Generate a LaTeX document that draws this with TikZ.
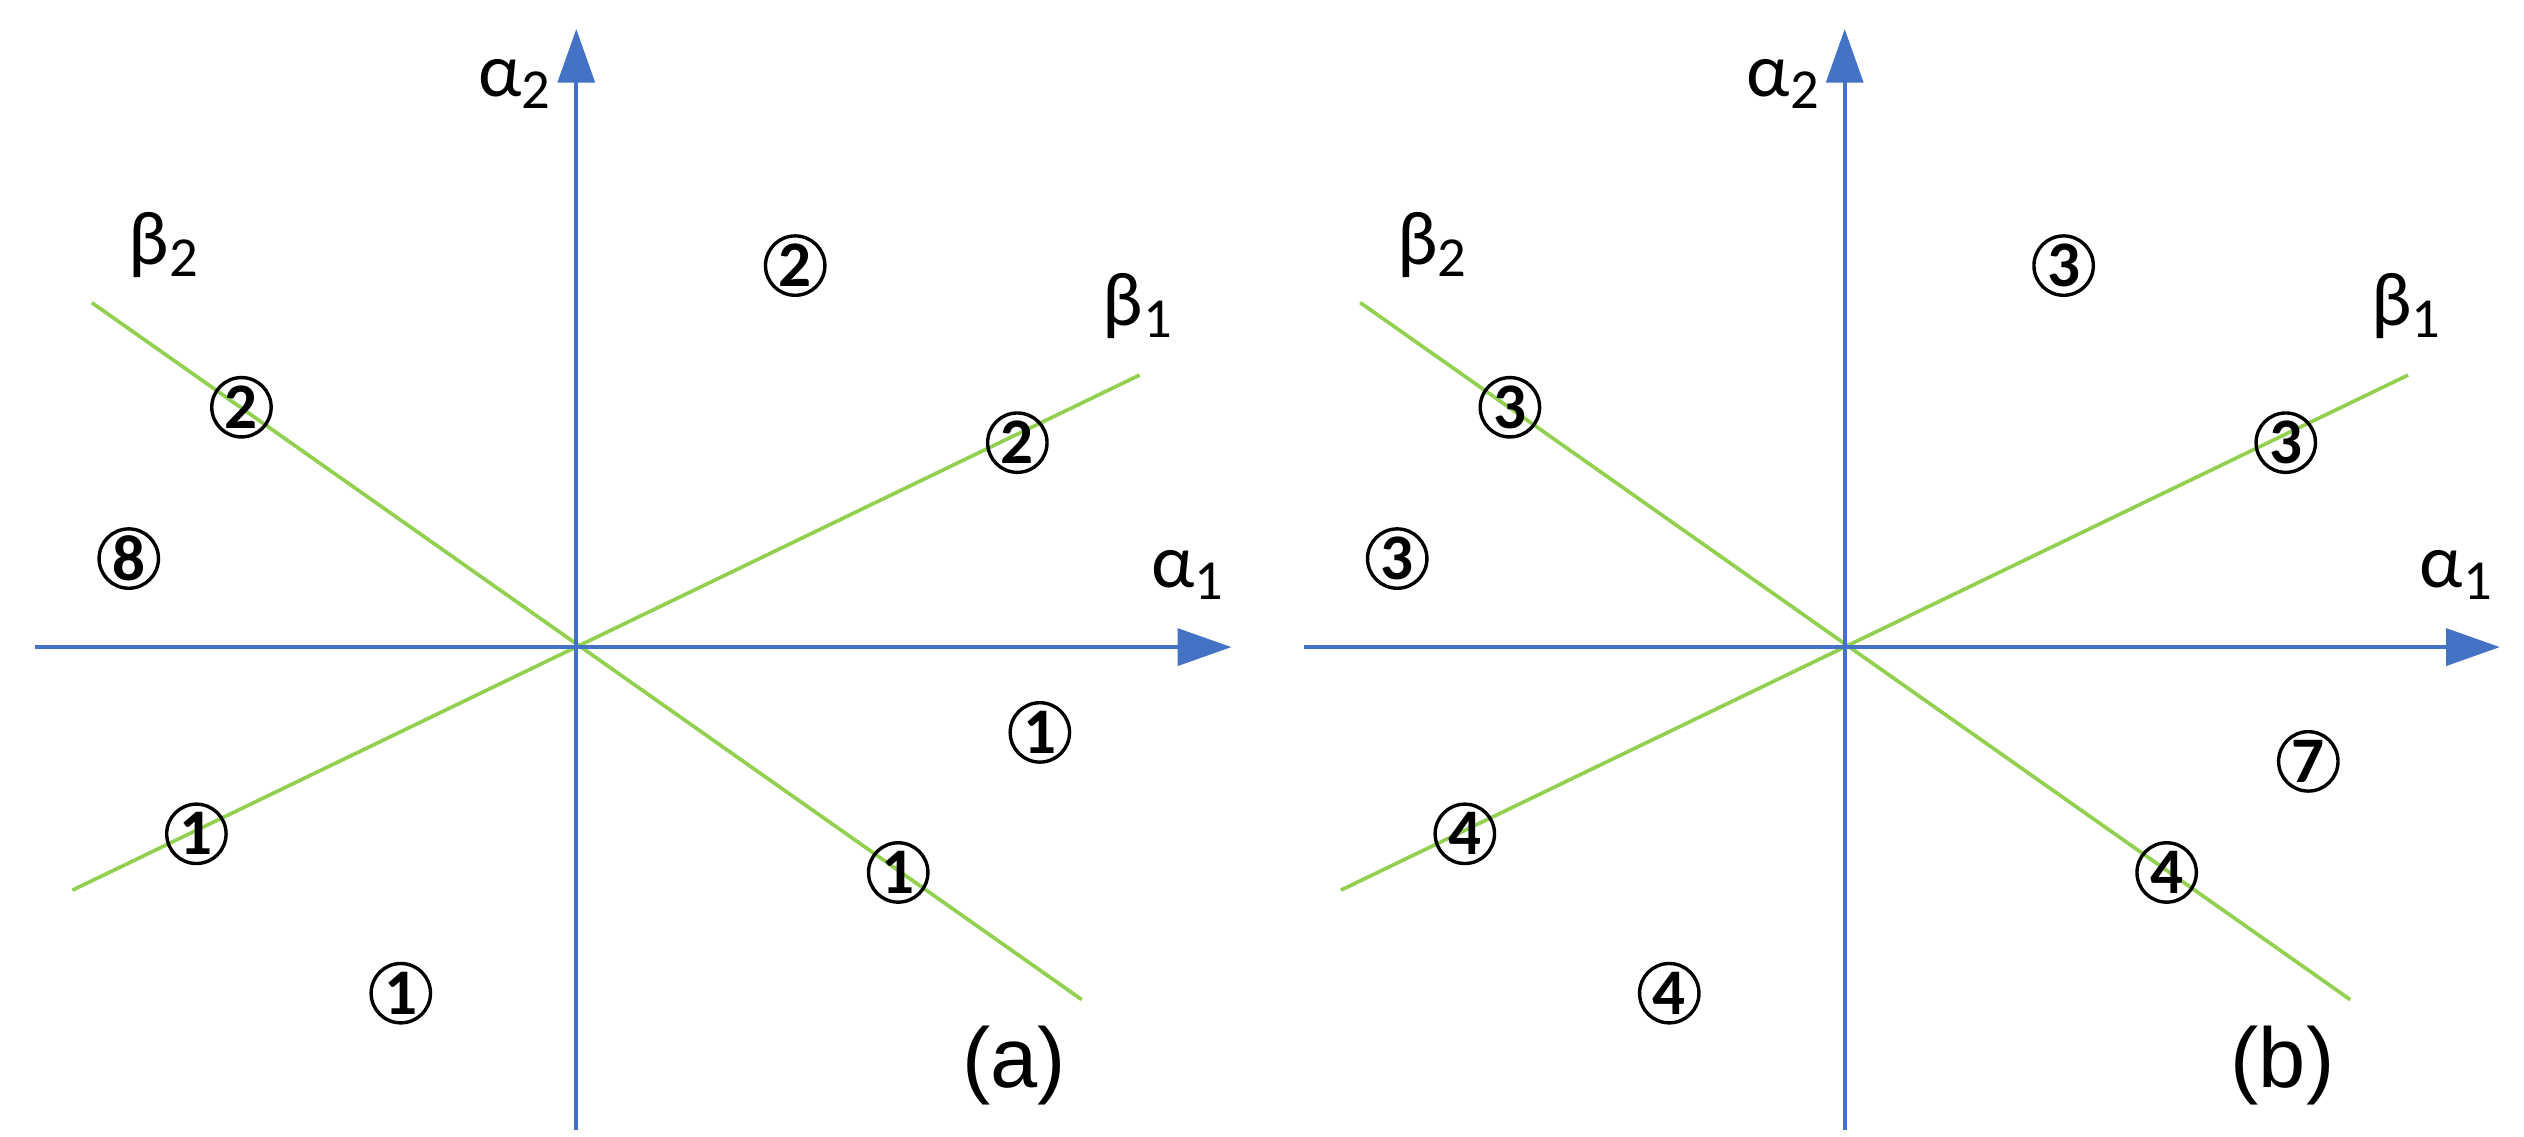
\documentclass[tikz,border=0pt]{standalone}
\usepackage{fontspec}
\setmainfont{Carlito}
\newfontfamily\arialf{Liberation Sans}
\usetikzlibrary{arrows.meta}
\definecolor{axblue}{HTML}{4472C4}
\definecolor{lgreen}{HTML}{92D050}
\begin{document}
\begin{tikzpicture}[x=0.02cm,y=-0.02cm,
  axis/.style={draw=axblue,line width=1.5pt,-{Triangle[width=13pt,length=19pt]}},
  bline/.style={draw=lgreen,line width=1.3pt},
  cnum/.style={circle,draw,line width=1.2pt,inner sep=0pt,minimum size=21pt,font=\bfseries\fontsize{23}{23}\selectfont},
  glab/.style={font=\fontsize{27}{27}\selectfont},
  plab/.style={font=\arialf\fontsize{30}{30}\selectfont}]
\useasboundingbox (0,0) rectangle (1568,706);
\foreach \ox/\pn/\ta/\tb/\tc/\td/\te/\tf/\tg/\th/\tx/\ty [count=\i] in
  {0/a/2/2/2/8/1/1/1/1/646/455, 788/b/3/3/3/3/7/4/4/4/646/473}{
\begin{scope}[xshift=\ox*0.02cm]
\coordinate (o\i) at (358,402);
\coordinate (xl\i) at (22,402);
\coordinate (xr\i) at (765,402);
\coordinate (yb\i) at (358,702);
\coordinate (yt\i) at (358,18);
\coordinate (b1s\i) at (45,553);
\coordinate (b1e\i) at (708,233);
\coordinate (b2s\i) at (57,188);
\coordinate (b2e\i) at (672,621);
\draw[bline] (b1s\i) -- (b1e\i);
\draw[bline] (b2s\i) -- (b2e\i);
\draw[axis] (xl\i) -- (xr\i);
\draw[axis] (yb\i) -- (yt\i);
\node[glab] (a2\i) at (320,52) {α\textsubscript{\fontsize{20}{20}\selectfont 2}};
\node[glab] (b2\i) at (102,152) {β\textsubscript{\fontsize{20}{20}\selectfont 2}};
\node[glab] (b1\i) at (707,190) {β\textsubscript{\fontsize{20}{20}\selectfont 1}};
\node[glab] (a1\i) at (738,357) {α\textsubscript{\fontsize{20}{20}\selectfont 1}};
\node[cnum] (c1\i) at (494,165) {\ta};
\node[cnum] (c2\i) at (150,253) {\tb};
\node[cnum] (c3\i) at (632,275) {\tc};
\node[cnum] (c4\i) at (80,347) {\td};
\node[cnum] (c5\i) at (\tx,\ty) {\te};
\node[cnum] (c6\i) at (122,518) {\tf};
\node[cnum] (c7\i) at (558,542) {\tg};
\node[cnum] (c8\i) at (249,617) {\th};
\node[plab] (p\i) at (630,662) {(\pn)};
\end{scope}}
\end{tikzpicture}
\end{document}
